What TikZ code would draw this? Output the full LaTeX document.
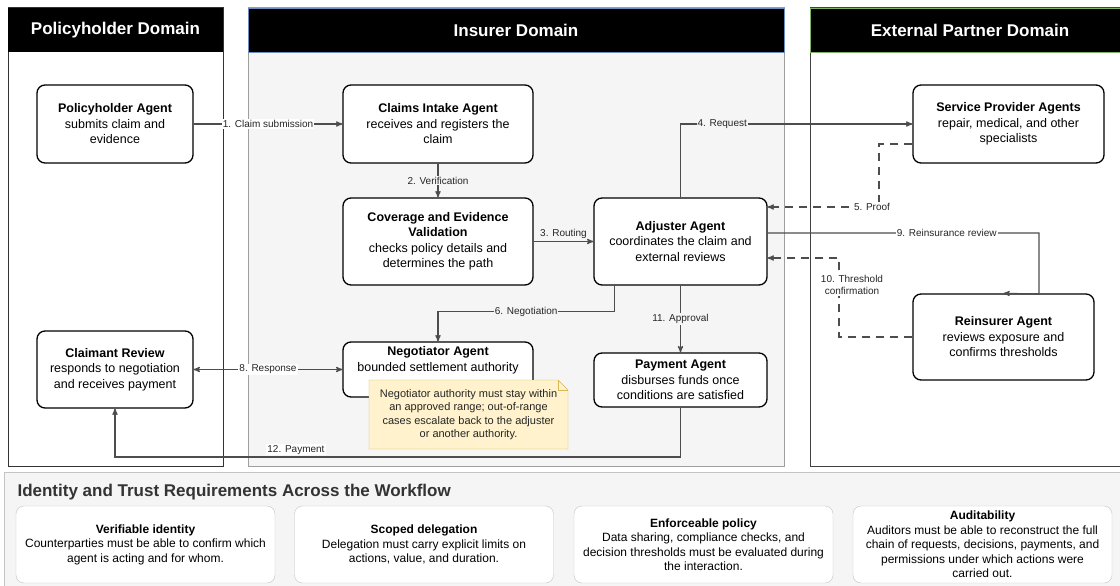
\documentclass[tikz,border=0pt]{standalone}
\usepackage{fontspec}
\setmainfont{Liberation Sans}
\usetikzlibrary{arrows,positioning,calc}

\definecolor{edgegray}{HTML}{4D4D4D}
\definecolor{panelgray}{HTML}{F5F5F5}
\definecolor{framegray}{HTML}{9E9E9E}
\definecolor{notefill}{HTML}{FFF2CC}
\definecolor{noteline}{HTML}{D6B656}
\definecolor{insblue}{HTML}{6C8EBF}
\definecolor{extgreen}{HTML}{82B366}
\definecolor{reqline}{HTML}{C4C4C4}

\begin{document}
\begin{tikzpicture}[x=1pt,y=-1pt,>=stealth',
    agent/.style={draw, line width=1.3pt, rounded corners=8pt, fill=white, align=center,
      font=\fontsize{12.5}{15.5}\selectfont, inner sep=0pt},
    header/.style={fill=black, text=white, font=\bfseries\fontsize{17}{20}\selectfont,
      minimum height=44pt, inner sep=0pt},
    flow/.style={draw=edgegray, line width=1.2pt, ->},
    reply/.style={flow, dash pattern=on 8pt off 6pt},
    lbl/.style={font=\fontsize{10}{12}\selectfont, text=black!85, inner sep=1pt, fill=panelgray},
    req/.style={draw=reqline, rounded corners=8pt, fill=white, align=center,
      font=\fontsize{12}{14.5}\selectfont, minimum width=259pt, minimum height=77pt, inner sep=0pt}]
    \clip (0,0) rectangle (1120,586);

    % domains
    \draw[draw=black!80, line width=1pt, fill=white] (8,8) rectangle (223,466);
    \draw[draw=framegray, line width=1pt, fill=panelgray] (248,8) rectangle (784,466);
    \draw[draw=black!75, line width=1pt, fill=white] (810,8) rectangle (1130,466);
    \node[header, minimum width=215pt] (phHead) at (115.5,30) {Policyholder Domain};
    \node[header, minimum width=536pt, draw=insblue] (insHead) at (516,30) {Insurer Domain};
    \node[header, minimum width=320pt, draw=extgreen] (extHead) at (970,30) {External Partner Domain};

    % agents
    \node[agent, minimum width=156pt, minimum height=78pt] (policy) at (115,124)
      {\textbf{Policyholder Agent}\\submits claim and\\evidence};
    \node[agent, minimum width=190pt, minimum height=78pt] (claims) at (438,124)
      {\textbf{Claims Intake Agent}\\receives and registers the\\claim};
    \node[agent, minimum width=190pt, minimum height=87pt] (coverage) at (438,241.5)
      {\textbf{Coverage and Evidence}\\\textbf{Validation}\\checks policy details and\\determines the path};
    \node[agent, minimum width=173pt, minimum height=87pt] (adjuster) at (680.5,241.5)
      {\textbf{Adjuster Agent}\\coordinates the claim and\\external reviews};
    \node[agent, minimum width=190pt, minimum height=55pt] (negotiator) at (438,369.5)
      {\textbf{Negotiator Agent}\\bounded settlement authority\\[6pt]};
    \node[agent, minimum width=156pt, minimum height=77pt] (claimant) at (115,369.5)
      {\textbf{Claimant Review}\\responds to negotiation\\and receives payment};
    \node[agent, minimum width=173pt, minimum height=54pt] (payment) at (680.5,380)
      {\textbf{Payment Agent}\\disburses funds once\\conditions are satisfied};
    \node[agent, minimum width=191pt, minimum height=78pt] (service) at (1008.5,124)
      {\textbf{Service Provider Agents}\\repair, medical, and other\\specialists};
    \node[agent, minimum width=181pt, minimum height=86pt] (reinsurer) at (1003.5,337)
      {\textbf{Reinsurer Agent}\\reviews exposure and\\confirms thresholds};

    % note
    \filldraw[fill=notefill, draw=noteline] (369,380) -- (558,380) -- (568,390) -- (568,449) -- (369,449) -- cycle;
    \draw[noteline] (558,380) -- (558,390) -- (568,390);
    \node[align=center, font=\fontsize{11}{13.5}\selectfont, text=black!85] (note) at (468.5,414.5)
      {Negotiator authority must stay within\\an approved range; out-of-range\\cases escalate back to the adjuster\\or another authority.};

    % connectors
    \draw[flow] (policy) -- node[lbl, fill=white] {1. Claim submission} (claims);
    \draw[flow] (claims) -- node[lbl] {2. Verification} (coverage);
    \draw[flow] (coverage) -- node[lbl, fill=none, above=1pt] {3. Routing} (adjuster);
    \draw[flow] (adjuster.north) |- node[lbl, pos=0.59] {4. Request} (service);
    \draw[reply] ($(service.west)+(0,20)$) -| (879,207) node[lbl, fill=white, xshift=-7pt] {5. Proof}
      -- (adjuster.east |- 0,207);
    \draw[flow] ($(adjuster.south west)+(21,0)$) -- ++(0,26) -| node[lbl, pos=0.25] {6. Negotiation} (negotiator);
    \draw[flow, <->] (claimant) -- node[lbl, fill=white] {8. Response} (negotiator);
    \draw[flow] (adjuster.east |- 0,233) -- node[lbl, fill=white, pos=0.66] {9. Reinsurance review} (1039,233)
      -- (1039,294) -- (reinsurer.north);
    \draw[reply] (reinsurer.west) -| node[lbl, fill=white, align=center, pos=0.83, xshift=13pt]
      {10. Threshold\\confirmation} (839,258) -- (adjuster.east |- 0,258);
    \draw[flow] (adjuster) -- node[lbl] {11. Approval} (payment);
    \draw[flow] (payment) -- (680.5,457) -| node[lbl, fill=white, pos=0.34, above=1pt] {12. Payment} (claimant);

    % requirements
    \draw[draw=reqline, line width=1pt, fill=panelgray] (4,472) rectangle (1130,592);
    \node[anchor=west, font=\bfseries\fontsize{17}{20}\selectfont, text=black!80] (reqTitle) at (14,492)
      {Identity and Trust Requirements Across the Workflow};
    \node[req] (identity) at (145.5,544.5)
      {\textbf{Verifiable identity}\\Counterparties must be able to confirm which\\agent is acting and for whom.};
    \node[req] (delegation) at (424,544.5)
      {\textbf{Scoped delegation}\\Delegation must carry explicit limits on\\actions, value, and duration.};
    \node[req] (policyReq) at (703.5,544.5)
      {\textbf{Enforceable policy}\\Data sharing, compliance checks, and\\decision thresholds must be evaluated during\\the interaction.};
    \node[req] (audit) at (982.5,544.5)
      {\textbf{Auditability}\\Auditors must be able to reconstruct the full\\chain of requests, decisions, payments, and\\permissions under which actions were\\carried out.};
\end{tikzpicture}
\end{document}
